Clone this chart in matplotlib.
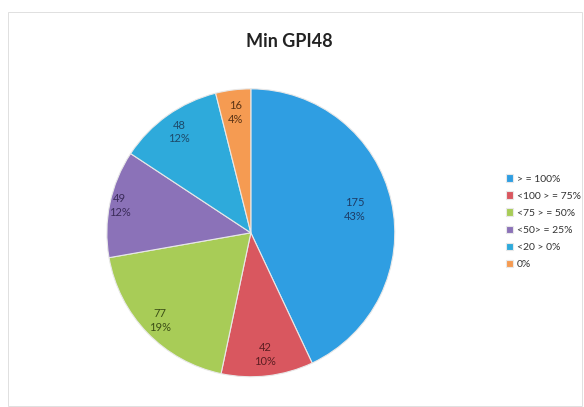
import numpy as np
import matplotlib
matplotlib.use('Agg')
import matplotlib.pyplot as plt
from matplotlib.patches import Rectangle

plt.rcParams['font.family'] = ['Lato', 'DejaVu Sans']

# data
categories = ['> = 100%', '<100 > = 75%', '<75 > = 50%', '<50> = 25%', '<20 > 0%', '0%']
counts = [175, 42, 77, 49, 48, 16]
percent_labels = ['43%', '10%', '19%', '12%', '12%', '4%']

colors = ['#2f9ee2', '#d9575f', '#a8cc57', '#8b72b8', '#2eaadb', '#f59b52']
text_colors = ['#1d3c66', '#5c1e22', '#3c4f16', '#3b2c5a', '#1d4a6a', '#5a3315']
label_r = [0.74, 0.85, 0.88, 0.93, 0.86, 0.84]

fig = plt.figure(figsize=(5.84, 4.07), dpi=100)
fig.patches.append(Rectangle((8 / 584, 0.002), 574 / 584, 1 - 12 / 407 - 0.002,
                             transform=fig.transFigure, fill=False,
                             edgecolor='#e0e0e0', linewidth=0.7))

ax = fig.add_axes([0.183, 0.074, 0.493, 0.708])
wedges, _ = ax.pie(counts, colors=colors, startangle=90, counterclock=False,
                   wedgeprops=dict(edgecolor='#e8e8e8', linewidth=0.8))
ax.set_xlim(-1.0, 1.0)
ax.set_ylim(-1.0, 1.0)
ax.set_aspect('equal')

for w, n, p, r, tc in zip(wedges, counts, percent_labels, label_r, text_colors):
    mid = np.deg2rad((w.theta1 + w.theta2) / 2)
    ax.text(r * np.cos(mid), r * np.sin(mid), f'{n}\n{p}', ha='center', va='center',
            fontsize=8, color=tc, linespacing=1.3)

fig.text(0.495, 0.897, 'Min GPI48', ha='center', va='center', fontsize=13,
         fontweight='bold', color='#222222')

fig.legend(wedges, categories, loc='upper left', bbox_to_anchor=(0.85, 0.595),
           frameon=False, fontsize=7.5, handlelength=0.7, handleheight=0.7,
           handletextpad=0.4, labelspacing=0.75, labelcolor='#333333')

fig.savefig('out.png', dpi=100)
